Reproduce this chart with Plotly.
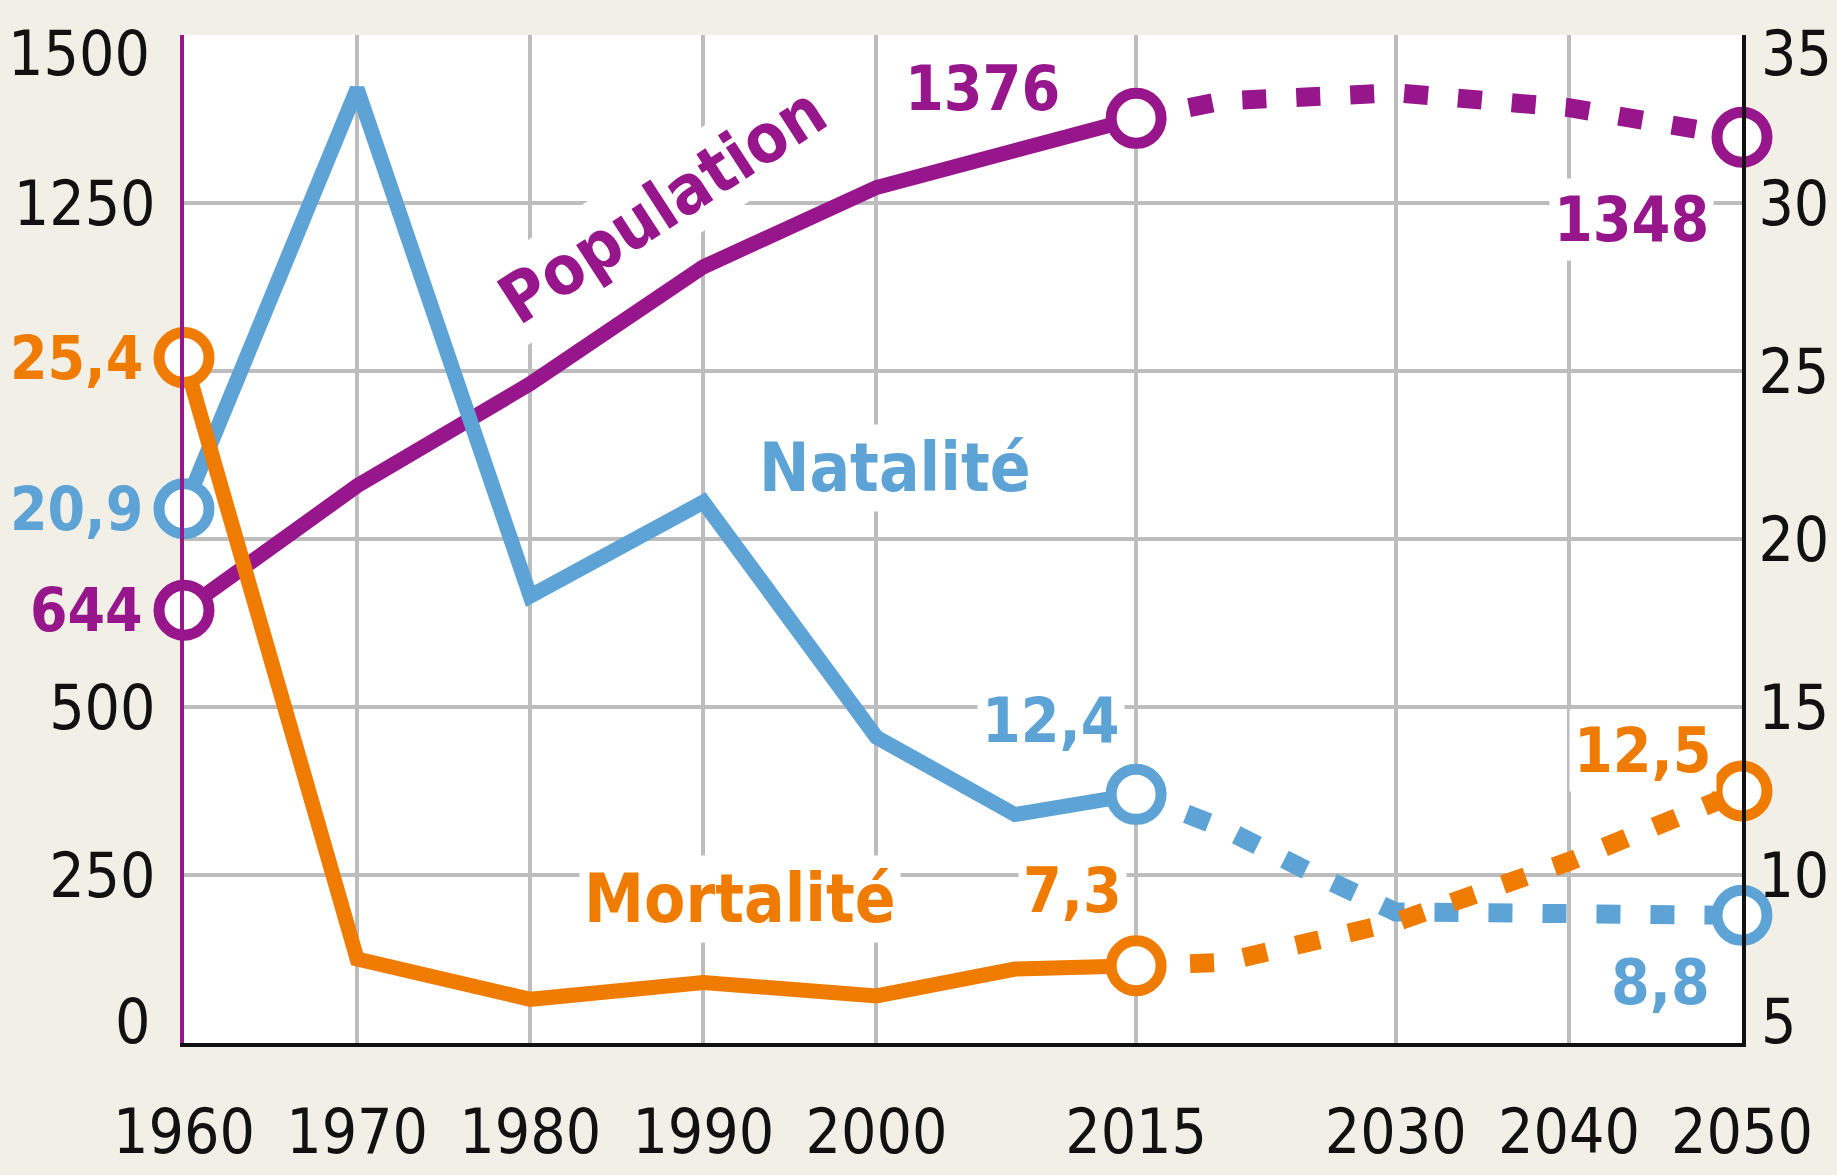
import plotly.graph_objects as go

# ---------------- data ----------------
pop_years = [1960, 1970, 1980, 1990, 2000, 2015]
population = [644, 829, 981, 1155, 1273, 1376]
pop_proj_years = [2015, 2020, 2030, 2040, 2050]
pop_proj = [1376, 1402, 1414, 1392, 1348]

rate_years = [1960, 1970, 1980, 1990, 2000, 2008, 2015]
natalite = [20.9, 33.4, 18.3, 21.1, 14.1, 11.8, 12.4]
mortalite = [25.4, 7.5, 6.3, 6.8, 6.4, 7.2, 7.3]

nat_proj_years = [2015, 2020, 2025, 2030, 2040, 2050]
nat_proj = [12.4, 11.4, 10.1, 8.9, 8.85, 8.8]
mort_proj_years = [2015, 2020, 2030, 2040, 2050]
mort_proj = [7.3, 7.4, 8.6, 10.4, 12.5]

marker_years_pop = [1960, 2015, 2050]
marker_pop = [644, 1376, 1348]
marker_years_rate = [1960, 2015, 2050]
marker_nat = [20.9, 12.4, 8.8]
marker_mort = [25.4, 7.3, 12.5]

x_ticks = [1960, 1970, 1980, 1990, 2000, 2015, 2030, 2040, 2050]
left_ticks = [0, 250, 500, 750, 1000, 1250, 1500]
left_ticktext = ["", "250", "500", "", "", "1250", ""]
right_ticks = [5, 10, 15, 20, 25, 30, 35]
right_ticktext = ["", "10", "15", "20", "25", "30", ""]
# end labels of the two value axes (drawn slightly inside the frame, as in the original)
left_end_ticks = [0, 1500]
right_end_ticks = [5, 35]

# ---------------- style ----------------
PURPLE = "#97168b"
BLUE = "#5ea3d5"
ORANGE = "#ef7b00"
BG = "#f2f0e6"
GRID = "#bdbdbd"
FONT = ("Liberation Sans Narrow, Noto Sans ExtraCondensed, Noto Sans Condensed, "
        "DejaVu Sans Condensed, sans-serif")
LW = 15
LW_DASH = 19
DASH = "24px,30px"
TICK_SIZE = 62

fig = go.Figure()

def line(x, y, color, axis, dash="solid", width=LW):
    fig.add_trace(go.Scatter(x=x, y=y, mode="lines", yaxis=axis,
                             line=dict(color=color, width=width, dash=dash),
                             hoverinfo="skip", showlegend=False))

line(pop_proj_years, pop_proj, PURPLE, "y", DASH, LW_DASH)
line(nat_proj_years, nat_proj, BLUE, "y2", DASH, LW_DASH)
line(mort_proj_years, mort_proj, ORANGE, "y2", DASH, LW_DASH)
line(pop_years, population, PURPLE, "y")
line(rate_years, natalite, BLUE, "y2")
line(rate_years, mortalite, ORANGE, "y2")

def markers(x, y, color, axis):
    fig.add_trace(go.Scatter(x=x, y=y, mode="markers", yaxis=axis, cliponaxis=False,
                             marker=dict(size=50, color="white",
                                         line=dict(color=color, width=11)),
                             hoverinfo="skip", showlegend=False))

markers(marker_years_pop, marker_pop, PURPLE, "y")
markers(marker_years_rate, marker_nat, BLUE, "y2")
markers(marker_years_rate, marker_mort, ORANGE, "y2")

# ---------------- labels ----------------
def label(text, x, y, color, yref, size=62, angle=0, bg="white", xanchor="center", xshift=0):
    fig.add_annotation(text=text, x=x, y=y, xref="x", yref=yref, showarrow=False,
                       font=dict(family=FONT, size=size, color=color, weight="bold"),
                       bgcolor=bg, borderpad=4, textangle=angle,
                       xanchor=xanchor, yanchor="middle", xshift=xshift)

label("Population", 1987.6, 1247, PURPLE, "y", size=68, angle=-33)
label("1376", 2006.1, 1421, PURPLE, "y")
label("1348", 2043.6, 1225, PURPLE, "y")
label("Natalité", 2001.1, 22.1, BLUE, "y2", size=67)
label("Mortalité", 1992.1, 9.3, ORANGE, "y2", size=67)
label("12,4", 2010.1, 14.6, BLUE, "y2")
label("7,3", 2011.3, 9.55, ORANGE, "y2")
label("12,5", 2044.3, 13.7, ORANGE, "y2")
label("8,8", 2045.3, 6.8, BLUE, "y2")
label("25,4", 1960, 25.4, ORANGE, "y2", size=60, bg=BG, xanchor="right", xshift=-36)
label("20,9", 1960, 20.9, BLUE, "y2", size=60, bg=BG, xanchor="right", xshift=-36)
label("644", 1960, 644, PURPLE, "y", size=60, bg=BG, xanchor="right", xshift=-36)

tick_font = dict(family=FONT, size=TICK_SIZE, color="#111111")

# end labels of the value axes, nudged inside like the original
for v, shift in zip(left_end_ticks, [22, -18]):
    fig.add_annotation(text=str(v), xref="paper", x=0, yref="y", y=v, showarrow=False,
                       xanchor="right", yanchor="middle", xshift=-32, yshift=shift,
                       font=tick_font)
for v, shift in zip(right_end_ticks, [22, -18]):
    fig.add_annotation(text=str(v), xref="paper", x=1, yref="y2", y=v, showarrow=False,
                       xanchor="left", yanchor="middle", xshift=17, yshift=shift,
                       font=tick_font)

fig.update_layout(
    width=1837, height=1175,
    paper_bgcolor=BG, plot_bgcolor="white",
    margin=dict(l=184, r=95, t=35, b=132),
    showlegend=False,
    xaxis=dict(range=[1960, 2050], tickvals=x_ticks, ticktext=[str(v) for v in x_ticks],
               showgrid=True, gridcolor=GRID, gridwidth=4, zeroline=False,
               showline=True, linecolor="#111111", linewidth=4, automargin=False,
               tickangle=0, ticklabeloverflow="allow",
               ticks="", ticklabelstandoff=32, tickfont=tick_font),
    yaxis=dict(range=[0, 1500], tickvals=left_ticks, ticktext=left_ticktext,
               showgrid=True, gridcolor=GRID, gridwidth=4, zeroline=False,
               showline=True, linecolor=PURPLE, linewidth=4, automargin=False,
               ticklabeloverflow="allow",
               ticks="", ticklabelstandoff=12, tickfont=tick_font),
    yaxis2=dict(range=[5, 35], tickvals=right_ticks, ticktext=right_ticktext,
                overlaying="y", side="right",
                showgrid=False, zeroline=False, automargin=False,
                ticklabeloverflow="allow",
                showline=True, linecolor="#111111", linewidth=4,
                ticks="", ticklabelstandoff=0, tickfont=tick_font),
)

fig.write_html("out.html", config={"displayModeBar": False},
               post_script="document.body.style.margin='0';document.body.style.overflow='hidden';")
